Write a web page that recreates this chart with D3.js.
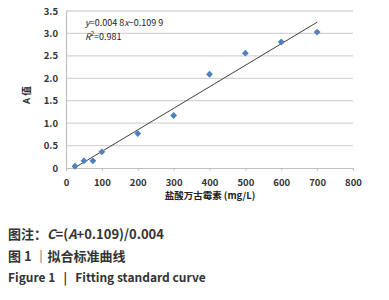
<!DOCTYPE html>
<html lang="zh">
<head>
<meta charset="UTF-8">
<title>Fitting standard curve</title>
<style>
  body { margin: 0; background: #fff; }
  svg text { font-family: "Noto Sans CJK SC", "Liberation Sans", sans-serif; white-space: pre; }
</style>
</head>
<body>
<script src="https://d3js.org/d3.v7.min.js"></script>
<script>
  // measured points: concentration (mg/L) vs absorbance
  const conc = [25, 50, 75, 100, 200, 300, 400, 500, 600, 700];
  const absorb = [0.04, 0.16, 0.16, 0.36, 0.77, 1.17, 2.09, 2.56, 2.81, 3.03];
  const slope = 0.0048;
  const intercept = -0.1099;
  const xTicks = [0, 100, 200, 300, 400, 500, 600, 700, 800];
  const yTicks = [0, 0.5, 1.0, 1.5, 2.0, 2.5, 3.0, 3.5];
  const yTickLabels = ['0', '0.5', '1.0', '1.5', '2.0', '2.5', '3.0', '3.5'];

  const W = 389, H = 300;
  const m = { left: 66, right: 36, top: 11, bottom: 132 };

  const svg = d3.select('body').append('svg')
    .attr('width', W)
    .attr('height', H);

  const x = d3.scaleLinear().domain([0, 800]).range([m.left, W - m.right]);
  const y = d3.scaleLinear().domain([0, 3.5]).range([H - m.bottom, m.top]);

  // gridlines
  svg.append('g')
    .selectAll('line')
    .data(yTicks.slice(1))
    .join('line')
    .attr('x1', x(0)).attr('x2', x(800))
    .attr('y1', d => y(d)).attr('y2', d => y(d))
    .attr('stroke', '#d4d4d4')
    .attr('stroke-width', 1.3);

  // y axis
  const yAxis = svg.append('g')
    .attr('transform', `translate(${x(0)},0)`)
    .call(d3.axisLeft(y).tickValues(yTicks).tickFormat((d, i) => yTickLabels[i]).tickSize(0).tickPadding(8));
  yAxis.select('.domain').attr('stroke', '#bfbfbf').attr('stroke-width', 1.2);
  yAxis.selectAll('text')
    .attr('font-size', 9.5).attr('font-weight', 'bold').attr('fill', '#333')
    .attr('font-family', '"Liberation Sans", sans-serif');

  // x axis
  const xAxis = svg.append('g')
    .attr('transform', `translate(0,${y(0)})`)
    .call(d3.axisBottom(x).tickValues(xTicks).tickSize(3).tickPadding(8));
  xAxis.select('.domain').attr('stroke', '#bfbfbf').attr('stroke-width', 1.2);
  xAxis.selectAll('.tick line').attr('stroke', '#bfbfbf');
  xAxis.selectAll('text')
    .attr('font-size', 9.5).attr('font-weight', 'bold').attr('fill', '#333')
    .attr('font-family', '"Liberation Sans", sans-serif');

  // trend line
  const fitX = [d3.min(conc), d3.max(conc)];
  svg.append('line')
    .attr('x1', x(fitX[0])).attr('y1', y(slope * fitX[0] + intercept))
    .attr('x2', x(fitX[1])).attr('y2', y(slope * fitX[1] + intercept))
    .attr('stroke', '#404040')
    .attr('stroke-width', 1);

  // points
  svg.append('g')
    .selectAll('path')
    .data(conc)
    .join('path')
    .attr('d', d3.symbol(d3.symbolDiamond2, 30))
    .attr('transform', (d, i) => `translate(${x(d)},${y(absorb[i])})`)
    .attr('fill', '#4f81bd');

  // equation
  const eq = svg.append('g').attr('font-size', 9).attr('fill', '#222')
    .attr('font-family', '"Liberation Sans", sans-serif');
  const t1 = eq.append('text').attr('x', 85).attr('y', 26);
  t1.append('tspan').attr('font-style', 'italic').text('y');
  t1.append('tspan').text('=0.004 8');
  t1.append('tspan').attr('font-style', 'italic').text('x');
  t1.append('tspan').text('−0.109 9');
  const t2 = eq.append('text').attr('x', 85).attr('y', 40);
  t2.append('tspan').attr('font-style', 'italic').text('R');
  t2.append('tspan').attr('font-size', 6).attr('dy', -4).text('2');
  t2.append('tspan').attr('dy', 4).text('=0.981');

  // axis titles
  svg.append('text')
    .attr('transform', `translate(30,95) rotate(-90)`)
    .attr('text-anchor', 'middle')
    .attr('font-size', 9.5).attr('font-weight', 'bold').attr('fill', '#222')
    .text('A 值');

  svg.append('text')
    .attr('x', 210).attr('y', 199)
    .attr('text-anchor', 'middle')
    .attr('font-size', 9.5).attr('font-weight', 'bold').attr('fill', '#222')
    .text('盐酸万古霉素 (mg/L)');

  // caption
  const cap = svg.append('g').attr('font-size', 13).attr('font-weight', 'bold').attr('fill', '#333');
  const c1 = cap.append('text').attr('x', 8).attr('y', 239);
  c1.append('tspan').text('图注：');
  c1.append('tspan').attr('font-style', 'italic').text('C');
  c1.append('tspan').text('=(');
  c1.append('tspan').attr('font-style', 'italic').text('A');
  c1.append('tspan').text('+0.109)/0.004');
  cap.append('text').attr('x', 8).attr('y', 261).text('图 1 ｜拟合标准曲线');
  cap.append('text').attr('x', 8).attr('y', 282).attr('font-size', 12)
    .text('Figure 1   |   Fitting standard curve');
</script>
</body>
</html>
